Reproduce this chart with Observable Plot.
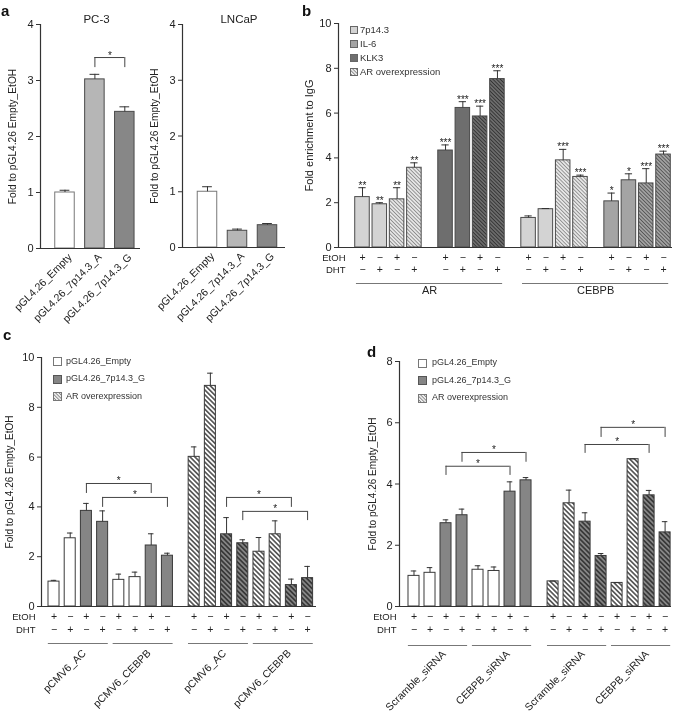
<!DOCTYPE html>
<html>
<head>
<meta charset="utf-8">
<script src="https://cdn.jsdelivr.net/npm/d3@7"></script>
<script src="https://cdn.jsdelivr.net/npm/@observablehq/plot@0.6"></script>
<style>
  html, body { margin: 0; padding: 0; background: #fff; }
  #fig { position: relative; width: 675px; height: 716px; overflow: hidden; background: #fff;
         font-family: "Liberation Sans", Arial, Helvetica, sans-serif; color: #222; }
  #fig > svg { will-change: transform; }
  .plabel { position: absolute; font-weight: bold; font-size: 15px; line-height: 15px; color: #111; }
  .leg { position: absolute; white-space: nowrap; color: #333; }
  .leg svg { display: block; }
</style>
</head>
<body>
<svg width="0" height="0" style="position:absolute">
  <defs>
    <pattern id="hatLight" patternUnits="userSpaceOnUse" width="2.6" height="2.6" patternTransform="rotate(-45)">
      <rect width="2.6" height="2.6" fill="#eeeeee"/>
      <line x1="1.3" y1="0" x2="1.3" y2="2.6" stroke="#8c8c8c" stroke-width="1"/>
    </pattern>
    <pattern id="hatMid" patternUnits="userSpaceOnUse" width="2.6" height="2.6" patternTransform="rotate(-45)">
      <rect width="2.6" height="2.6" fill="#a8a8a8"/>
      <line x1="1.3" y1="0" x2="1.3" y2="2.6" stroke="#555" stroke-width="1"/>
    </pattern>
    <pattern id="hatDark" patternUnits="userSpaceOnUse" width="2.6" height="2.6" patternTransform="rotate(-45)">
      <rect width="2.6" height="2.6" fill="#707070"/>
      <line x1="1.3" y1="0" x2="1.3" y2="2.6" stroke="#333" stroke-width="1"/>
    </pattern>
    <pattern id="hatW" patternUnits="userSpaceOnUse" width="3.4" height="3.4" patternTransform="rotate(-45)">
      <rect width="3.4" height="3.4" fill="#ffffff"/>
      <line x1="1.7" y1="0" x2="1.7" y2="3.4" stroke="#1e1e1e" stroke-width="1.25"/>
    </pattern>
    <pattern id="hatG" patternUnits="userSpaceOnUse" width="3.4" height="3.4" patternTransform="rotate(-45)">
      <rect width="3.4" height="3.4" fill="#858585"/>
      <line x1="1.7" y1="0" x2="1.7" y2="3.4" stroke="#1e1e1e" stroke-width="1.25"/>
    </pattern>
    <pattern id="hatLeg" patternUnits="userSpaceOnUse" width="2.4" height="2.4" patternTransform="rotate(-45)">
      <rect width="2.4" height="2.4" fill="#f4f4f4"/>
      <line x1="1.2" y1="0" x2="1.2" y2="2.4" stroke="#808080" stroke-width="0.9"/>
    </pattern>
  </defs>
</svg>
<div id="fig"></div>
<script>
// ===================== DATA =====================
// Panel a
const aCategories   = ["pGL4.26_Empty", "pGL4.26_7p14.3_A", "pGL4.26_7p14.3_G"];
const aPC3Values    = [1.00, 3.02, 2.44];
const aPC3Errors    = [0.04, 0.09, 0.09];
const aLNCaPValues  = [1.00, 0.30, 0.40];
const aLNCaPErrors  = [0.09, 0.03, 0.03];
const aPC3Brackets  = [[1, 2, 3.41, 3.23, "*"]];        // [from bar, to bar, top, leg end, label]

// Panel b
const bTargets = ["AR", "CEBPB"];
const bLoci    = ["7p14.3", "KLK3", "7p14.3", "IL-6"];  // one per group of four bars
const bLegend  = ["7p14.3", "IL-6", "KLK3", "AR overexpression"];
const bValues  = [2.25, 1.93, 2.15, 3.56,  4.33, 6.23, 5.85, 7.52,  1.32, 1.71, 3.89, 3.15,  2.06, 3.00, 2.86, 4.15];
const bErrors  = [0.42, 0.07, 0.52, 0.22,  0.25, 0.28, 0.46, 0.37,  0.09, 0.03, 0.49, 0.08,  0.37, 0.29, 0.66, 0.15];
const bStars   = ["**", "**", "**", "**", "***", "***", "***", "***", "", "", "***", "***", "*", "*", "***", "***"];

// Treatment rows (repeat for every group of four bars)
const treatEtOH = ["+", "−", "+", "−"];
const treatDHT  = ["−", "+", "−", "+"];

// Panels c and d
const cdLegend = ["pGL4.26_Empty", "pGL4.26_7p14.3_G", "AR overexpression"];
const cGroups  = ["pCMV6_AC", "pCMV6_CEBPB", "pCMV6_AC", "pCMV6_CEBPB"];
const cValues  = [1.00, 2.74, 3.84, 3.40,  1.07, 1.18, 2.45, 2.04,  6.01, 8.86, 2.90, 2.54,  2.20, 2.90, 0.86, 1.14];
const cErrors  = [0.05, 0.21, 0.30, 0.44,  0.23, 0.20, 0.47, 0.10,  0.40, 0.51, 0.67, 0.14,  0.57, 0.54, 0.24, 0.47];
const cBrackets = [[2, 6, 4.94, 4.54, "*"], [3, 7, 4.38, 3.98, "*"], [10, 14, 4.38, 3.98, "*"], [11, 15, 3.82, 3.45, "*"]];

const dGroups  = ["Scramble_siRNA", "CEBPB_siRNA", "Scramble_siRNA", "CEBPB_siRNA"];
const dValues  = [1.00, 1.10, 2.72, 2.98,  1.20, 1.16, 3.75, 4.12,  0.82, 3.37, 2.77, 1.65,  0.77, 4.81, 3.63, 2.42];
const dErrors  = [0.16, 0.17, 0.11, 0.20,  0.13, 0.13, 0.32, 0.09,  0.01, 0.43, 0.29, 0.08,  0.01, 0.01, 0.16, 0.35];
const dBrackets = [[2, 6, 4.58, 4.28, "*"], [3, 7, 5.03, 4.71, "*"], [10, 14, 5.29, 5.00, "*"], [11, 15, 5.85, 5.52, "*"]];

// ===================== STYLE / LAYOUT =====================
const W = 675, H = 716;
const FONT = '"Liberation Sans", Arial, Helvetica, sans-serif';
const INK = "#222", AXIS = "#333", EDGE = "#4a4a4a";
const fig = document.getElementById("fig");

function basePlot(cfg, marks) {
  const svg = Plot.plot({
    width: W, height: H,
    marginLeft: cfg.left, marginRight: W - cfg.right, marginTop: cfg.top, marginBottom: H - cfg.bottom,
    x: {domain: cfg.xDomain, axis: null},
    y: {domain: cfg.yDomain, axis: null},
    color: {type: "identity"},
    style: {position: "absolute", left: "0px", top: "0px", background: "transparent",
            fontFamily: FONT, fontSize: "11px", color: INK, overflow: "visible"},
    marks
  });
  fig.appendChild(svg);
}

function axisMarks(cfg) {
  return [
    Plot.ruleY([0], {stroke: AXIS, strokeWidth: 1.2}),
    Plot.ruleX([cfg.xDomain[0]], {y1: cfg.yDomain[0], y2: cfg.yDomain[1], stroke: AXIS, strokeWidth: 1.2}),
    Plot.axisY({ticks: cfg.yTicks, tickFormat: d => String(d), tickSize: 4, tickPadding: 3, label: null,
                stroke: AXIS, fill: INK, fontSize: 11}),
    Plot.text([cfg.yLabel], {frameAnchor: "left", text: d => d, dx: cfg.yLabelDx, rotate: -90,
                             textAnchor: "middle", lineAnchor: "middle", fontSize: cfg.yLabelSize, fill: INK})
  ];
}

function barMarks(cfg, bars) {
  const hw = cfg.hw;
  return [
    Plot.rectY(bars, {x1: d => d.slot - hw, x2: d => d.slot + hw, y1: 0, y2: "value",
                      fill: "fill", stroke: "stroke", strokeWidth: 1}),
    Plot.ruleX(bars, {x: "slot", y1: "value", y2: d => d.value + d.err, stroke: AXIS, strokeWidth: 1}),
    Plot.ruleY(bars, {x1: d => d.slot - hw / 2, x2: d => d.slot + hw / 2, y: d => d.value + d.err,
                      stroke: AXIS, strokeWidth: 1})
  ];
}

function bracketMarks(brackets, bars) {
  const br = brackets.map(([a, b, top, leg, label]) => ({x1: bars[a].slot, x2: bars[b].slot, top, leg, label}));
  return [
    Plot.ruleY(br, {x1: "x1", x2: "x2", y: "top", stroke: "#444"}),
    Plot.ruleX(br, {x: "x1", y1: "leg", y2: "top", stroke: "#444"}),
    Plot.ruleX(br, {x: "x2", y1: "leg", y2: "top", stroke: "#444"}),
    Plot.text(br, {x: d => (d.x1 + d.x2) / 2, y: "top", text: "label", lineAnchor: "bottom", dy: 1,
                   fontSize: 10, fill: INK})
  ];
}

function treatmentMarks(bars, rows, labelDx, fs, fsLabel) {
  return [
    Plot.text(bars, {x: "slot", frameAnchor: "bottom", text: d => treatEtOH[d.i % 4], dy: rows[0], fontSize: fs, fill: INK}),
    Plot.text(bars, {x: "slot", frameAnchor: "bottom", text: d => treatDHT[d.i % 4], dy: rows[1], fontSize: fs, fill: INK}),
    Plot.text(["EtOH"], {frameAnchor: "bottom-left", text: d => d, textAnchor: "end", dx: labelDx, dy: rows[0], fontSize: fsLabel, fill: INK}),
    Plot.text(["DHT"], {frameAnchor: "bottom-left", text: d => d, textAnchor: "end", dx: labelDx, dy: rows[1], fontSize: fsLabel, fill: INK})
  ];
}

function addLegend(items, x, centers, size, textX, fs) {
  items.forEach((it, k) => {
    const sw = document.createElement("div");
    sw.className = "leg";
    sw.style.left = x + "px";
    sw.style.top = (centers[k] - size / 2) + "px";
    sw.innerHTML = `<svg width="${size}" height="${size}"><rect x="0.5" y="0.5" width="${size - 1}" height="${size - 1}" fill="${it.fill}" stroke="${it.stroke}" stroke-width="1"/></svg>`;
    fig.appendChild(sw);
    const t = document.createElement("div");
    t.className = "leg";
    t.textContent = it.label;
    t.style.left = textX + "px";
    t.style.fontSize = fs + "px";
    t.style.lineHeight = (fs * 1.2) + "px";
    t.style.top = (centers[k] - fs * 0.62) + "px";
    fig.appendChild(t);
  });
}

function addPanelLabel(txt, x, y) {
  const d = document.createElement("div");
  d.className = "plabel"; d.textContent = txt;
  d.style.left = x + "px"; d.style.top = y + "px";
  fig.appendChild(d);
}

// ===================== PANEL a =====================
const aFills = ["#ffffff", "#b6b6b6", "#878787"];
const aStrokes = ["#777", EDGE, EDGE];
function aBars(values, errors) {
  return values.map((v, i) => ({i, slot: i, value: v, err: errors[i], cat: aCategories[i], fill: aFills[i], stroke: aStrokes[i]}));
}
function aLabels(bars) {
  return Plot.text(bars, {x: "slot", frameAnchor: "bottom", text: "cat", rotate: -45, textAnchor: "end",
                          lineAnchor: "middle", dx: 5, dy: 7, fontSize: 10.5, fill: INK});
}
const cfgPC3 = {left: 40, right: 140, top: 24, bottom: 248, xDomain: [-0.819, 2.525], yDomain: [0, 4],
                yTicks: [0, 1, 2, 3, 4], hw: 0.326, yLabel: "Fold to pGL4.26 Empty_EtOH", yLabelDx: -28, yLabelSize: 10.2};
const pc3Bars = aBars(aPC3Values, aPC3Errors);
basePlot(cfgPC3, [
  ...barMarks(cfgPC3, pc3Bars),
  ...axisMarks(cfgPC3),
  aLabels(pc3Bars),
  ...bracketMarks(aPC3Brackets, pc3Bars),
  Plot.text(["PC-3"], {frameAnchor: "top", text: d => d, dx: 6, dy: -10, fontSize: 11.5, fill: INK})
]);

const cfgLN = {left: 182, right: 285, top: 24, bottom: 247, xDomain: [-0.833, 2.6], yDomain: [0, 4],
               yTicks: [0, 1, 2, 3, 4], hw: 0.325, yLabel: "Fold to pGL4.26 Empty_EtOH", yLabelDx: -28, yLabelSize: 10.2};
const lnBars = aBars(aLNCaPValues, aLNCaPErrors);
basePlot(cfgLN, [
  ...barMarks(cfgLN, lnBars),
  ...axisMarks(cfgLN),
  aLabels(lnBars),
  Plot.text(["LNCaP"], {frameAnchor: "top", text: d => d, dx: 5, dy: -10, fontSize: 11.5, fill: INK})
]);

// ===================== PANEL b =====================
const bSolid = {"7p14.3": "#d3d3d3", "IL-6": "#a4a4a4", "KLK3": "#6e6e6e"};
const bHatch = {"7p14.3": "url(#hatLight)", "IL-6": "url(#hatMid)", "KLK3": "url(#hatDark)"};
const bBars = bValues.map((v, i) => {
  const q = Math.floor(i / 4), locus = bLoci[q], oe = i % 4 >= 2;
  return {i, slot: (i % 4) + 4.8 * q, value: v, err: bErrors[i], star: bStars[i],
          fill: oe ? bHatch[locus] : bSolid[locus], stroke: EDGE};
});
const bGroups = bTargets.map((t, g) => ({label: t, x1: bBars[g * 8].slot - 0.35, x2: bBars[g * 8 + 7].slot + 0.3}));
const cfgB = {left: 338, right: 672, top: 23, bottom: 247, xDomain: [-1.387, 17.919], yDomain: [0, 10],
              yTicks: [0, 2, 4, 6, 8, 10], hw: 0.42, yLabel: "Fold enrichment to IgG", yLabelDx: -29, yLabelSize: 11};
basePlot(cfgB, [
  ...barMarks(cfgB, bBars),
  ...axisMarks(cfgB),
  Plot.text(bBars, {x: "slot", y: d => d.value + d.err, text: "star", lineAnchor: "bottom", dy: 1, fontSize: 10, fill: INK}),
  ...treatmentMarks(bBars, [13, 25], 7, 10.5, 9.5),
  Plot.ruleY(bGroups, {x1: "x1", x2: "x2", y: 0, dy: 36, stroke: "#777"}),
  Plot.text(bGroups, {x: d => (d.x1 + d.x2) / 2, frameAnchor: "bottom", text: "label", dy: 46, fontSize: 11, fill: INK})
]);
addLegend(bLegend.map((l, k) => ({label: l, fill: k < 3 ? bSolid[l] : "url(#hatLeg)", stroke: "#666"})),
          350, [29.5, 44, 58, 72], 8, 360, 9.5);

// ===================== PANELS c & d =====================
function cdBars(values, errors, gap) {
  return values.map((v, i) => {
    const construct = (i % 4) < 2 ? 0 : 1, oe = i >= 8;
    const fill = oe ? (construct ? "url(#hatG)" : "url(#hatW)") : (construct ? "#858585" : "#ffffff");
    return {i, slot: (i % 8) + gap * Math.floor(i / 8), value: v, err: errors[i], fill, stroke: "#3a3a3a"};
  });
}
function cdGroupMarks(bars, groups, lineDy, labelDy) {
  const gs = groups.map((g, q) => ({label: g, x1: bars[q * 4].slot - 0.35, x2: bars[q * 4 + 3].slot + 0.35,
                                    mid: (bars[q * 4].slot + bars[q * 4 + 3].slot) / 2}));
  return [
    Plot.ruleY(gs, {x1: "x1", x2: "x2", y: 0, dy: lineDy, stroke: "#777"}),
    Plot.text(gs, {x: "mid", frameAnchor: "bottom", text: "label", rotate: -45, textAnchor: "end",
                   lineAnchor: "middle", dx: 6, dy: labelDy, fontSize: 10.5, fill: INK})
  ];
}
const cdLegendItems = [
  {label: cdLegend[0], fill: "#ffffff", stroke: "#777"},
  {label: cdLegend[1], fill: "#858585", stroke: "#555"},
  {label: cdLegend[2], fill: "url(#hatLeg)", stroke: "#777"}
];

const cfgC = {left: 41, right: 316, top: 357, bottom: 606, xDomain: [-0.772, 16.2], yDomain: [0, 10],
              yTicks: [0, 2, 4, 6, 8, 10], hw: 0.34, yLabel: "Fold to pGL4.26 Empty_EtOH", yLabelDx: -32, yLabelSize: 10};
const cB = cdBars(cValues, cErrors, 8.65);
basePlot(cfgC, [
  ...barMarks(cfgC, cB),
  ...axisMarks(cfgC),
  ...bracketMarks(cBrackets, cB),
  ...treatmentMarks(cB, [13, 26], -6, 10.5, 9.5),
  ...cdGroupMarks(cB, cGroups, 37, 45)
]);
addLegend(cdLegendItems, 53, [361.5, 379, 396.5], 9, 66, 9);

const cfgD = {left: 399, right: 671, top: 361, bottom: 606, xDomain: [-0.906, 16.09], yDomain: [0, 8],
              yTicks: [0, 2, 4, 6, 8], hw: 0.344, yLabel: "Fold to pGL4.26 Empty_EtOH", yLabelDx: -27, yLabelSize: 10};
const dB = cdBars(dValues, dErrors, 8.69);
basePlot(cfgD, [
  ...barMarks(cfgD, dB),
  ...axisMarks(cfgD),
  ...bracketMarks(dBrackets, dB),
  ...treatmentMarks(dB, [13, 26], -3, 10.5, 9.5),
  ...cdGroupMarks(dB, dGroups, 39, 46)
]);
addLegend(cdLegendItems, 418, [363, 380.5, 398], 9, 432, 9);

// Panel letters
addPanelLabel("a", 1, 3);
addPanelLabel("b", 302, 3);
addPanelLabel("c", 3, 327);
addPanelLabel("d", 367, 344);
</script>
</body>
</html>
